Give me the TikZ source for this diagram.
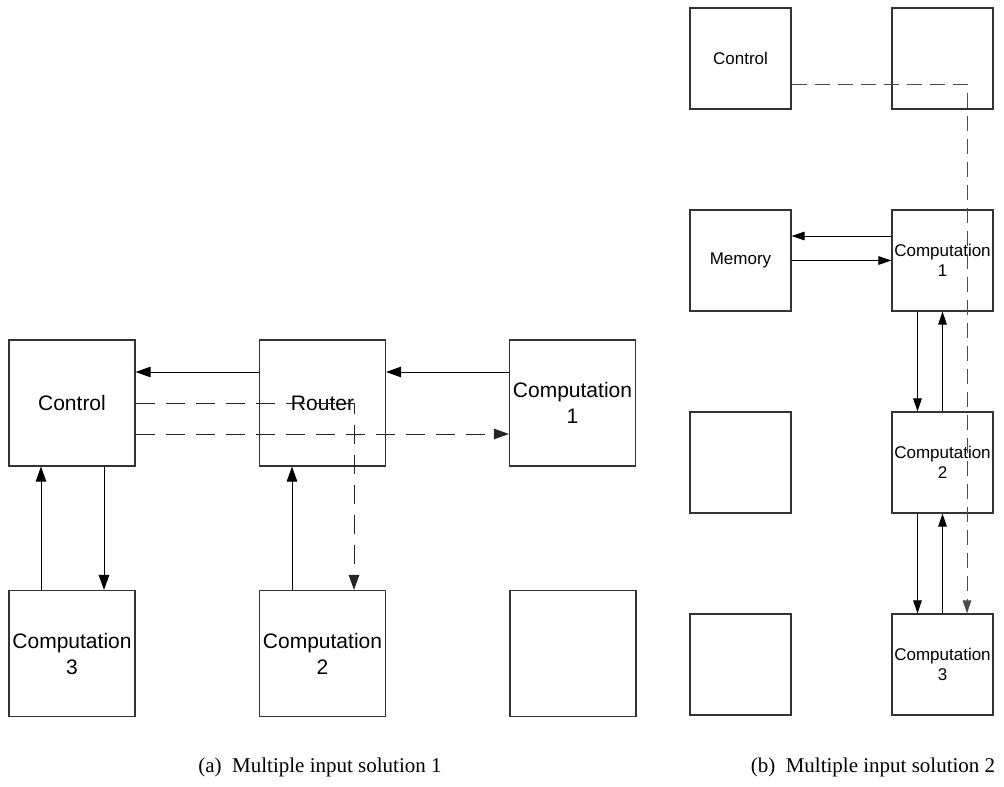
\documentclass[tikz,border=0pt]{standalone}
\usepackage{fontspec}
\setmainfont{Liberation Serif}
\setsansfont{Liberation Sans}
\usetikzlibrary{arrows.meta}
\begin{document}
\begin{tikzpicture}[x=1pt,y=-1pt,
  blockA/.style={draw=black!80, line width=1.1pt, inner sep=0pt, align=center,
    minimum width=126pt, minimum height=126pt,
    font=\sffamily\fontsize{21}{26}\selectfont},
  blockB/.style={draw=black!80, line width=1.1pt, inner sep=0pt, align=center,
    minimum width=101pt, minimum height=101pt,
    font=\sffamily\fontsize{17}{19.5}\selectfont},
  arrA/.style={line width=1pt, -{Triangle[length=15pt,width=10.5pt]}},
  arrB/.style={line width=1pt, -{Triangle[length=13pt,width=8.5pt]}},
  dashA/.style={arrA, dash pattern=on 19pt off 11pt, color=black!85},
  dashB/.style={arrB, dash pattern=on 15pt off 8pt, color=black!70},
  caption/.style={font=\rmfamily\fontsize{21}{25}\selectfont}]
\useasboundingbox (0,0) rectangle (1004,787);

% ---- (a) router layout ----
\node[blockA] (ctlA) at (72,403) {Control};
\node[blockA] (rtr)  at (322.5,403) {Router};
\node[blockA] (c1A)  at (572.5,403) {Computation\\1};
\node[blockA] (c3A)  at (72,653.5) {Computation\\3};
\node[blockA] (c2A)  at (322.5,653.5) {Computation\\2};
\node[blockA] (eA)   at (573,653.5) {};

\draw[arrA] ([yshift=31pt]rtr.west) -- ([yshift=31pt]ctlA.east);
\draw[arrA] ([yshift=31pt]c1A.west) -- ([yshift=31pt]rtr.east);
\draw[dashA] (ctlA.east) -| ([xshift=31.5pt]c2A.north);
\draw[dashA] ([yshift=-31pt]ctlA.east) -- ([yshift=-31pt]c1A.west);
\draw[arrA] ([xshift=-31pt]c3A.north) -- ([xshift=-31pt]ctlA.south);
\draw[arrA] ([xshift=32pt]ctlA.south) -- ([xshift=32pt]c3A.north);
\draw[arrA] ([xshift=-30.5pt]c2A.north) -- ([xshift=-30.5pt]rtr.south);

\node[caption] (capA) at (320,767) {(a)\hspace{0.5em}Multiple input solution 1};

% ---- (b) chained layout ----
\node[blockB] (ctlB) at (740.5,58.5) {Control};
\node[blockB] (eB1)  at (942.5,58.5) {};
\node[blockB] (mem)  at (740.5,260.5) {Memory};
\node[blockB] (c1B)  at (942.5,260.5) {Computation\\1};
\node[blockB] (eB2)  at (740.5,462.5) {};
\node[blockB] (c2B)  at (942.5,462.5) {Computation\\2};
\node[blockB] (eB3)  at (740.5,664.5) {};
\node[blockB] (c3B)  at (942.5,664.5) {Computation\\3};

\draw[arrB] ([yshift=24.5pt]c1B.west) -- ([yshift=24.5pt]mem.east);
\draw[arrB] (mem.east) -- (c1B.west);
\draw[arrB] ([xshift=-25pt]c1B.south) -- ([xshift=-25pt]c2B.north);
\draw[arrB] (c2B.north) -- (c1B.south);
\draw[arrB] ([xshift=-25pt]c2B.south) -- ([xshift=-25pt]c3B.north);
\draw[arrB] (c3B.north) -- (c2B.south);
\draw[dashB] ([yshift=-25.5pt]ctlB.east) -| ([xshift=24.5pt]c3B.north);

\node[caption] (capB) at (873,767) {(b)\hspace{0.5em}Multiple input solution 2};
\end{tikzpicture}
\end{document}
